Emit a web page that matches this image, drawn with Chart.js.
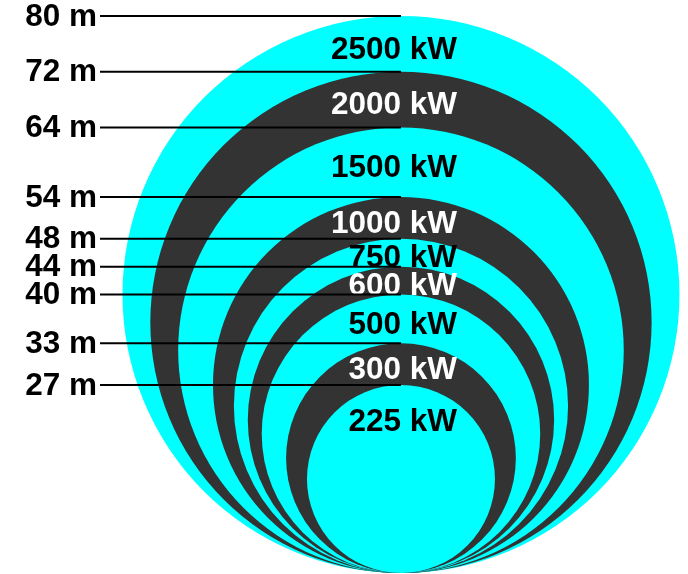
<!DOCTYPE html>
<html>
<head>
<meta charset="utf-8">
<script src="https://cdn.jsdelivr.net/npm/chart.js@4"></script>
<style>
  html, body { margin: 0; padding: 0; background: #fff; }
  #wrap { width: 688px; height: 574px; position: relative; }
</style>
</head>
<body>
<div id="wrap"><canvas id="rotorChart"></canvas></div>
<script>
// rotor diameter (m) and rated power for each turbine size, largest first
const diametersM = [80, 72, 64, 54, 48, 44, 40, 33, 27];
const powerKW = [2500, 2000, 1500, 1000, 750, 600, 500, 300, 225];

const CYAN = '#00ffff';
const DARK = '#333333';
const FONT = '"Liberation Sans", Arial, sans-serif';
const FONT_SIZE = 31.5;
const X_MIN = -43.2, X_MAX = 41.2;

const ringColor = i => (i % 2 === 0 ? CYAN : DARK);

// disc radius in px from the y scale, so every circle is d metres tall
const discRadius = (chart, d) => {
    const y = chart.scales.y;
    return (y.getPixelForValue(0) - y.getPixelForValue(d)) / 2;
};

// power labels go in each ring, drawn right after the discs (before the leader lines)
const powerLabels = {
    id: 'powerLabels',
    afterDatasetDraw(chart, args) {
        if (args.index !== 0) return;
        const { ctx, scales: { x, y } } = chart;
        const cx = x.getPixelForValue(0);
        ctx.save();
        ctx.font = 'bold ' + FONT_SIZE + 'px ' + FONT;
        ctx.textAlign = 'right';
        ctx.textBaseline = 'middle';
        diametersM.forEach((d, i) => {
            const top = y.getPixelForValue(d);
            const next = diametersM[i + 1];
            const ty = next !== undefined ? (top + y.getPixelForValue(next)) / 2 + 6 : top + 37;
            ctx.fillStyle = ringColor(i) === DARK ? '#ffffff' : '#000000';
            ctx.fillText(powerKW[i] + ' kW', cx + 56, ty);
        });
        ctx.restore();
    }
};

const radiusFor = c => (c.dataIndex === undefined ? 0 : discRadius(c.chart, diametersM[c.dataIndex]));

const ctx = document.getElementById('rotorChart');

new Chart(ctx, {
    type: 'scatter',
    data: {
        datasets: [
            {
                type: 'scatter',
                data: diametersM.map(d => ({ x: 0, y: d / 2 })),
                pointBackgroundColor: diametersM.map((d, i) => ringColor(i)),
                pointRadius: radiusFor,
                pointHoverRadius: radiusFor,
                pointBorderWidth: 0,
                order: 2,
                clip: false
            },
            // leader lines from the axis label to the top of each disc
            ...diametersM.map(d => ({
                type: 'line',
                data: [{ x: X_MIN, y: d }, { x: 0, y: d }],
                borderColor: '#000000',
                borderWidth: 2,
                pointRadius: 0,
                order: 1,
                clip: false
            }))
        ]
    },
    options: {
        responsive: true,
        maintainAspectRatio: false,
        animation: false,
        events: [],
        layout: { padding: { top: 16, bottom: 1, left: 0, right: 0 } },
        plugins: {
            legend: { display: false },
            tooltip: { enabled: false }
        },
        scales: {
            x: { type: 'linear', display: false, min: X_MIN, max: X_MAX },
            y: {
                type: 'linear',
                min: 0,
                max: 80,
                grid: { display: false, drawTicks: false },
                border: { display: false },
                afterBuildTicks: s => { s.ticks = diametersM.map(v => ({ value: v })); },
                afterFit: s => { s.width = 100; s.paddingTop = 0; s.paddingBottom = 0; },
                ticks: {
                    autoSkip: false,
                    padding: 3,
                    labelOffset: 1,
                    color: '#000000',
                    font: { family: FONT, size: FONT_SIZE, weight: 'bold' },
                    callback: v => v + ' m'
                }
            }
        }
    },
    plugins: [powerLabels]
});
</script>
</body>
</html>
